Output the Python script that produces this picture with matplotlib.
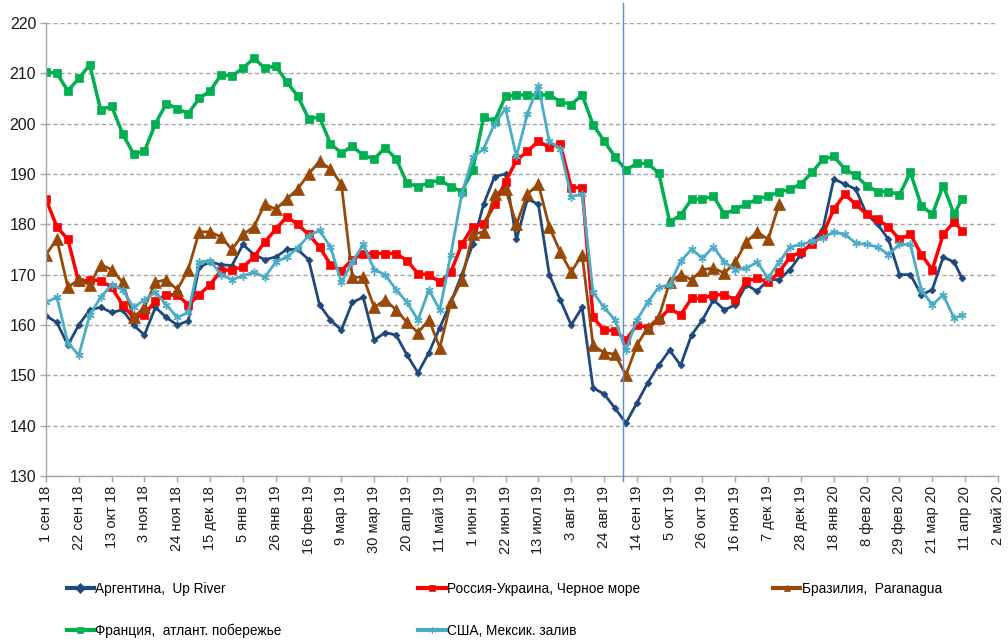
import matplotlib
matplotlib.use('Agg')
import matplotlib.pyplot as plt
import numpy as np
import pandas as pd
from matplotlib.lines import Line2D

nan = np.nan

# weekly observation dates (1 Sep 2018 ... ) plus the last observation
dates = list(pd.date_range('2018-09-01', periods=84, freq='7D')) + [pd.Timestamp('2020-04-09')]

argentina = [161.8, 160.5, 156, 160, 163, 163.5, 162.5, 163, 160, 158,
             163.5, 161.5, 160, 160.8, 171.5, 172.5, 172, 171.8, 176, 174,
             173, 173.5, 175, 175, 173, 164, 161, 159, 164.5, 165.5,
             157, 158.5, 158, 154, 150.5, 154.5, 159.5, 164.5, 170, 176,
             184, 189.5, 190, 177, 185, 184, 170, 165, 160, 163.5,
             147.5, 146.3, 143.5, 140.5, 144.5, 148.5, 152, 155, 152, 158,
             161, 165, 163, 164, 168, 166.7, 169, 169, 171, 174,
             176.5, 179, 189, 188, 187, 182, 180, 177, 170, 170,
             166, 167, 173.5, 172.5, 169.3]

russia = [185, 179.5, 177, 168.5, 169, 168.8, 167.5, 164, 161.5, 162,
          164.8, 166, 166, 164, 166, 168, 170.8, 171, 171.5, 173.5,
          176.5, 179, 181.5, 180, 178, 175.5, 172, 170.8, 173, 174.2,
          174.2, 174.2, 174.2, 172.8, 170.2, 170, 168.5, 170.5, 176, 179.5,
          180, 184, 188.5, 192.7, 194.5, 196.5, 195.3, 196, 187.3, 187.3,
          161.5, 159, 158.9, 157, 160, 159.5, 161, 163.3, 162, 165.3,
          165.3, 166, 166, 165, 168.7, 169.3, 168.5, 170.5, 173.5, 174.5,
          176, 178, 183, 186, 184, 182, 181, 179.5, 177, 178,
          174, 171, 178, 180.5, 178.7]

brazil = [174, 177, 167.5, 169, 168, 172, 171, 168.5, 161.5, 163.5,
          168.5, 169, 167, 171, 178.5, 178.5, 177.5, 175, 178, 179.5,
          184, 183, 185, 187, 190, 192.5, 191, 188, 169.5, 169.5,
          163.5, 165, 163, 160.5, 158.5, 161, 155.5, 164.5, 169, 178,
          178.5, 186, 187, 180, 186, 188, 179.5, 174.5, 170.5, 174,
          156, 154.5, 154.2, 150, 156, 159.5, 161.5, 168.5, 170, 169,
          171, 171.3, 170.3, 172.5, 176.5, 178.5, 177, 184,
          nan, nan, nan, nan, nan, nan, nan, nan, nan, nan,
          nan, nan, nan, nan, nan, nan, nan]

france = [210.3, 210, 206.5, 209, 211.7, 202.7, 203.5, 198, 194, 194.5,
          200, 204, 203, 202, 205, 206.5, 209.7, 209.5, 211, 213,
          211, 211.5, 208.3, 205.5, 201, 201.3, 196, 194.2, 195.5, 193.7,
          193, 195.2, 193, 188.2, 187.5, 188.2, 188.8, 187.5, 186.5, 190.8,
          201.3, 200.5, 205.4, 205.7, 205.7, 205.7, 205.7, 204.4, 203.8, 205.7,
          199.8, 196.6, 193.4, 190.8, 192.1, 192.1, 190.2, 180.5, 181.8, 185,
          185, 185.6, 182, 183, 184, 185, 185.6, 186.4, 187, 188,
          190.3, 192.9, 193.5, 191, 189.7, 187.7, 186.5, 186.5, 185.9, 190.3,
          183.7, 182, 187.7, 182, 185]

usa = [164.5, 165.5, 156.5, 154, 162, 165.5, 168, 167, 163.5, 165,
       166.5, 164, 161.5, 162.5, 172.5, 172.8, 170, 169, 169.8, 170.5,
       169.5, 172.5, 173.5, 175.3, 177.7, 178.8, 175.5, 168.5, 172.5, 176,
       171, 170, 167, 164.5, 161, 167, 163, 174, 186, 193.3,
       195, 200, 203, 193.5, 202, 207.5, 196.5, 195, 185.5, 186,
       166.5, 163.5, 161, 155, 161, 164.5, 167.5, 168, 172.7, 175,
       173.3, 175.5, 172.5, 171, 171.3, 172.5, 169.3, 172.5, 175.5, 176,
       176.6, 177.3, 178.5, 178, 176.3, 176, 175.5, 174, 176, 176,
       167, 164, 166, 161.3, 162]

series_names = ['Аргентина,  Up River', 'Россия-Украина, Черное море',
                'Бразилия,  Paranagua', 'Франция,  атлант. побережье',
                'США, Мексик. залив']

tick_dates = list(pd.date_range('2018-09-01', periods=30, freq='21D'))
tick_labels = ['1 сен 18', '22 сен 18', '13 окт 18', '3 ноя 18', '24 ноя 18',
               '15 дек 18', '5 янв 19', '26 янв 19', '16 фев 19', '9 мар 19',
               '30 мар 19', '20 апр 19', '11 май 19', '1 июн 19', '22 июн 19',
               '13 июл 19', '3 авг 19', '24 авг 19', '14 сен 19', '5 окт 19',
               '26 окт 19', '16 ноя 19', '7 дек 19', '28 дек 19', '18 янв 20',
               '8 фев 20', '29 фев 20', '21 мар 20', '11 апр 20', '2 май 20']

marker_date = pd.Timestamp('2019-09-05')

plt.rcParams['font.family'] = ['Liberation Sans', 'DejaVu Sans']

fig = plt.figure(figsize=(10.08, 6.44), dpi=100)
ax = fig.add_axes([0.0456, 0.2609, 0.9444, 0.7034])

styles = [
    dict(color='#1F497D', marker='D', ms=3.5, lw=2.0, mew=0.5),
    dict(color='#FF0000', marker='s', ms=5.5, lw=2.5, mew=0.5),
    dict(color='#984807', marker='^', ms=8, lw=2.0, mew=0.5),
    dict(color='#00B050', marker='s', ms=5.5, lw=2.5, mew=0.5),
    dict(color='#4BACC6', marker=(6, 2, 0), ms=6, lw=2.0, mew=1.0),
]
data = [argentina, russia, brazil, france, usa]
handles = []
for name, vals, st in zip(series_names, data, styles):
    h, = ax.plot(dates, vals, label=name, **st)
    handles.append(h)

ax.axvline(marker_date, ymin=-0.01, ymax=1.045, color='#5B8BD0', lw=1.0,
           clip_on=False, zorder=5)

ax.set_ylim(130, 220)
ax.set_yticks(np.arange(130, 221, 10))
ax.set_xlim(pd.Timestamp('2018-09-01'), pd.Timestamp('2020-05-02'))
ax.set_xticks(tick_dates)
ax.set_xticklabels(tick_labels, rotation=90, fontsize=10.5, color='#1a1a1a')
ax.tick_params(axis='y', labelsize=11.5, colors='#1a1a1a', length=4, width=1,
               color='#A6A6A6', pad=3)
ax.tick_params(axis='x', length=4, width=1, color='#A6A6A6', pad=3)
ax.yaxis.grid(True, linestyle=(0, (3, 2)), color='#A6A6A6', lw=1)
ax.set_axisbelow(True)
for s in ['top', 'right']:
    ax.spines[s].set_visible(False)
for s in ['left', 'bottom']:
    ax.spines[s].set_color('#A6A6A6')
    ax.spines[s].set_linewidth(1)

leg_pos = [(0.066, 0.075), (0.415, 0.075), (0.767, 0.075),
           (0.066, 0.010), (0.415, 0.010)]
for h, (lx, ly) in zip(handles, leg_pos):
    lh = Line2D([], [], color=h.get_color(), lw=3, marker=h.get_marker(),
                ms=5, mew=0.5)
    leg = fig.legend(handles=[lh], labels=[h.get_label()], loc='lower left',
                     bbox_to_anchor=(lx, ly), frameon=False, handlelength=2.0,
                     handletextpad=0.1, borderpad=0, borderaxespad=0,
                     prop={'family': ['Liberation Sans Narrow', 'Liberation Sans'],
                           'size': 9.8})

fig.savefig('out.png', dpi=100)
